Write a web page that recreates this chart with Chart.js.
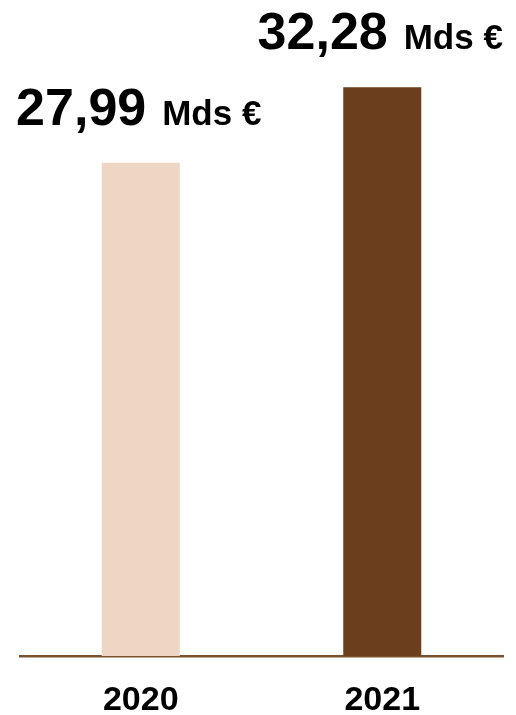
<!DOCTYPE html>
<html>
<head>
<meta charset="utf-8">
<script src="https://cdn.jsdelivr.net/npm/chart.js@4.4.0/dist/chart.umd.min.js"></script>
<style>
  html, body { margin: 0; padding: 0; background: #fff; }
  #wrap { width: 516px; height: 715px; position: relative; }
</style>
</head>
<body>
<div id="wrap"><canvas id="caChart"></canvas></div>
<script>
const years = ["2020", "2021"];
const revenue = [27.99, 32.28];
const valueLabels = ["27,99", "32,28"];
const unitLabel = "Mds €";
const barColors = ["#EFD5C4", "#6B3E1E"];

const FONT = "'Liberation Sans', Arial, sans-serif";

// labels above bars: big number + smaller unit, centered together
const valueLabelPlugin = {
  id: "valueLabels",
  afterDatasetsDraw(chart) {
    const ctx = chart.ctx;
    const meta = chart.getDatasetMeta(0);
    ctx.save();
    ctx.fillStyle = "#000";
    ctx.textBaseline = "alphabetic";
    ctx.textAlign = "left";
    meta.data.forEach((bar, i) => {
      ctx.font = "bold 52px " + FONT;
      const wNum = ctx.measureText(valueLabels[i]).width;
      ctx.font = "bold 35px " + FONT;
      const wUnit = ctx.measureText(unitLabel).width;
      const gap = 16;
      const total = wNum + gap + wUnit;
      const x0 = bar.x - 2 - total / 2;
      const y = bar.y - 38;
      ctx.font = "bold 52px " + FONT;
      ctx.fillText(valueLabels[i], x0, y);
      ctx.font = "bold 35px " + FONT;
      ctx.fillText(unitLabel, x0 + wNum + gap, y);
    });
    ctx.restore();
  }
};

new Chart(document.getElementById("caChart"), {
  type: "bar",
  data: {
    labels: years,
    datasets: [{
      data: revenue,
      backgroundColor: barColors,
      borderWidth: 0,
      categoryPercentage: 1,
      barPercentage: 0.323
    }]
  },
  options: {
    responsive: true,
    maintainAspectRatio: false,
    animation: false,
    layout: { padding: { left: 20, right: 13, top: 0, bottom: 0 } },
    plugins: { legend: { display: false }, tooltip: { enabled: false } },
    scales: {
      x: {
        grid: { display: false, drawTicks: false },
        border: { display: true, color: "#7A5230", width: 2.5 },
        ticks: { color: "#000", font: { family: FONT, size: 34, weight: "bold" }, padding: 24 },
        afterFit: (axis) => { axis.height = 59; }
      },
      y: {
        display: false,
        min: 0,
        max: 37.23
      }
    }
  },
  plugins: [valueLabelPlugin]
});
</script>
</body>
</html>
